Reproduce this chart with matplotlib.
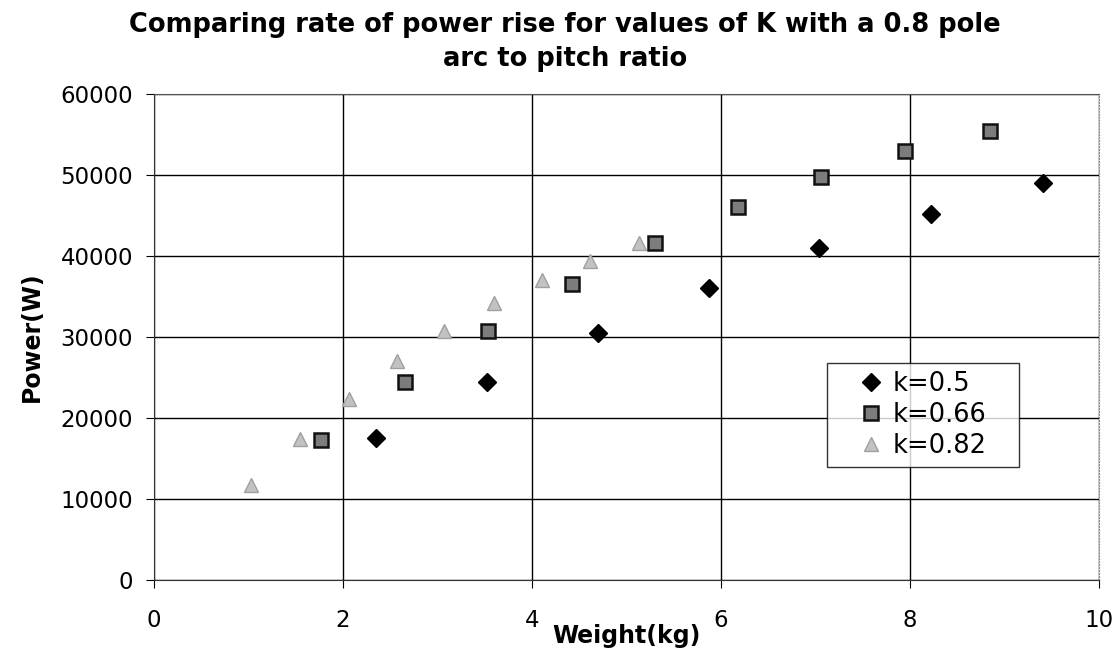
import matplotlib.pyplot as plt

plt.rcParams['font.family'] = ['DejaVu Sans']

# Weight (kg) and power (W) for each value of K
weight_k050 = [2.35, 3.52, 4.70, 5.87, 7.04, 8.22, 9.41]
power_k050 = [17500, 24400, 30500, 36100, 41000, 45200, 49000]

weight_k066 = [1.77, 2.66, 3.53, 4.42, 5.30, 6.18, 7.06, 7.95, 8.85]
power_k066 = [17300, 24400, 30800, 36500, 41600, 46000, 49800, 53000, 55400]

weight_k082 = [1.03, 1.55, 2.06, 2.57, 3.07, 3.60, 4.11, 4.61, 5.13]
power_k082 = [11700, 17400, 22400, 27000, 30800, 34200, 37000, 39400, 41600]

labels = ['k=0.5', 'k=0.66', 'k=0.82']

fig = plt.figure(figsize=(11.19, 6.70), dpi=100)
ax = fig.add_axes([154 / 1119, 1 - 580 / 670, (1099 - 154) / 1119, (580 - 94) / 670])

ax.plot(weight_k050, power_k050, linestyle='none', marker='D', ms=9.5,
        color='black', label=labels[0], zorder=3)
ax.plot(weight_k066, power_k066, linestyle='none', marker='s', ms=10.5,
        markerfacecolor='#7c7c7c', markeredgecolor='#111111', markeredgewidth=1.8,
        label=labels[1], zorder=3)
ax.plot(weight_k082, power_k082, linestyle='none', marker='^', ms=10.5,
        markerfacecolor='#c2c2c2', markeredgecolor='#a0a0a0', markeredgewidth=1,
        label=labels[2], zorder=3)

ax.set_xlim(0, 10)
ax.set_ylim(0, 60000)
ax.set_xticks(range(0, 11, 2))
ax.set_yticks(range(0, 60001, 10000))
ax.grid(True, color='black', linewidth=1)
ax.set_axisbelow(True)
ax.spines['top'].set_color('#555555')
ax.spines['right'].set_color('#888888')
ax.spines['right'].set_linestyle(':')
ax.spines['left'].set_color('#333333')
ax.spines['bottom'].set_color('#333333')

ax.tick_params(axis='both', which='major', labelsize=16.5, direction='out', length=6)
ax.tick_params(axis='x', pad=15)
ax.tick_params(axis='y', pad=9)

ax.set_xlabel('Weight(kg)', fontsize=17, fontweight='bold', labelpad=-6)
ax.set_ylabel('Power(W)', fontsize=17, fontweight='bold', labelpad=12)

fig.text(0.505, 0.982, 'Comparing rate of power rise for values of K with a 0.8 pole\narc to pitch ratio',
         ha='center', va='top', fontsize=18.5, fontweight='bold', linespacing=1.4)

leg_x0 = (827 - 154) / 945
leg_w = (1019 - 827) / 945
leg_top = (580 - 363) / 486
leg = ax.legend(loc='upper left', bbox_to_anchor=(leg_x0, leg_top - 0.2, leg_w, 0.2),
                mode='expand', fontsize=18.5, frameon=True, fancybox=False, edgecolor='black',
                handletextpad=-0.55, handlelength=2.8, borderpad=0.3, labelspacing=0.2,
                borderaxespad=0)
leg.get_frame().set_linewidth(1)

plt.savefig('out.png', dpi=100)
